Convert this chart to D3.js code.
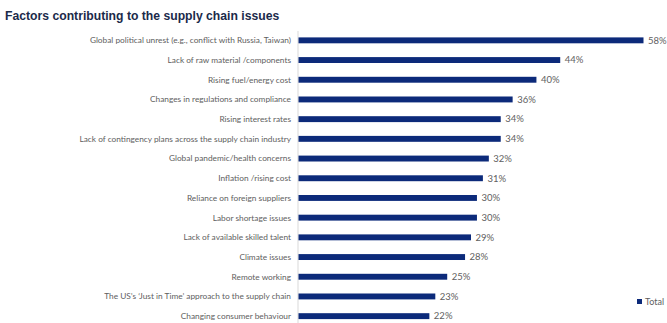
<!DOCTYPE html>
<meta charset="utf-8">
<title>Supply chain factors</title>
<script src="https://d3js.org/d3.v7.min.js"></script>
<style>
  body { margin: 0; background: #fff; }
  text { font-family: Lato, "Open Sans", sans-serif; }
</style>
<body>
</body>
<script>
  const width = 667, height = 323;

  const factors = [
    "Global political unrest (e.g., conflict with Russia, Taiwan)",
    "Lack of raw material /components",
    "Rising fuel/energy cost",
    "Changes in regulations and compliance",
    "Rising interest rates",
    "Lack of contingency plans across the supply chain industry",
    "Global pandemic/health concerns",
    "Inflation /rising cost",
    "Reliance on foreign suppliers",
    "Labor shortage issues",
    "Lack of available skilled talent",
    "Climate issues",
    "Remote working",
    "The US\u2019s \u2018Just in Time\u2019 approach to the supply chain",
    "Changing consumer behaviour"
  ];
  const totals = [58, 44, 40, 36, 34, 34, 32, 31, 30, 30, 29, 28, 25, 23, 22];
  const seriesName = "Total";

  const barColor = "#0c2a7a";
  const labelColor = "#606060";

  const svg = d3.select("body").append("svg")
      .attr("width", width).attr("height", height);

  // title
  svg.append("text")
      .attr("x", 5).attr("y", 20)
      .style("font-family", "'Liberation Sans', Arial, sans-serif")
      .style("font-weight", "bold")
      .style("font-size", "12.2px")
      .style("fill", "#1b2a4a")
      .text("Factors contributing to the supply chain issues");

  const x0 = 298;
  const x = d3.scaleLinear().domain([0, 58]).range([x0, 643]);
  const y = d3.scaleBand().domain(factors).range([30.5, 326]).paddingInner(0.7).paddingOuter(0.35);

  // category axis line
  svg.append("line")
      .attr("x1", x0).attr("x2", x0)
      .attr("y1", 31).attr("y2", height)
      .attr("stroke", "#d9d9d9").attr("stroke-width", 1);

  // bars
  svg.append("g").selectAll("rect")
      .data(totals)
      .join("rect")
      .attr("x", x0 + 0.5)
      .attr("y", (d, i) => y(factors[i]))
      .attr("width", d => x(d) - x0)
      .attr("height", y.bandwidth())
      .attr("fill", barColor);

  // category labels
  svg.append("g").selectAll("text")
      .data(factors)
      .join("text")
      .attr("x", x0 - 7)
      .attr("y", d => y(d) + y.bandwidth() / 2)
      .attr("dy", "0.35em")
      .attr("text-anchor", "end")
      .style("font-size", "8.3px")
      .style("fill", labelColor)
      .text(d => d);

  // value labels
  svg.append("g").selectAll("text")
      .data(totals)
      .join("text")
      .attr("x", d => x(d) + 5)
      .attr("y", (d, i) => y(factors[i]) + y.bandwidth() / 2)
      .attr("dy", "0.35em")
      .style("font-size", "9.5px")
      .style("fill", labelColor)
      .text(d => d + "%");

  // legend
  const legend = svg.append("g").attr("transform", "translate(637,299)");
  legend.append("rect").attr("width", 5).attr("height", 5).attr("fill", barColor);
  legend.append("text")
      .attr("x", 8).attr("y", 2.5).attr("dy", "0.35em")
      .style("font-size", "9px")
      .style("fill", labelColor)
      .text(seriesName);
</script>
